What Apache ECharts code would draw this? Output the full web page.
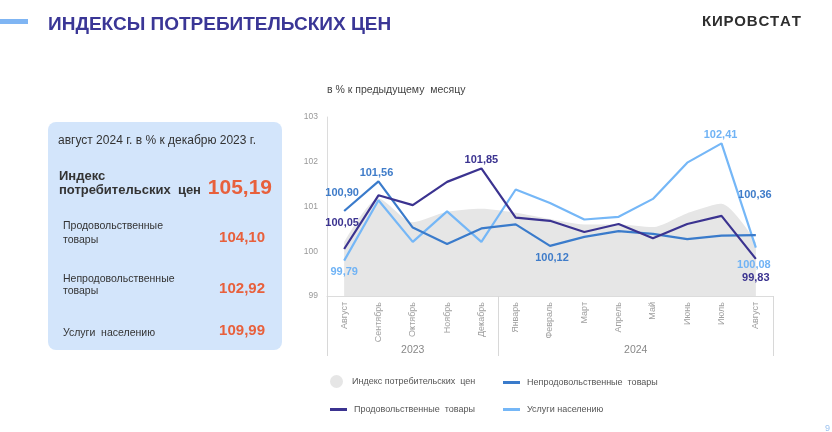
<!DOCTYPE html>
<html>
<head>
<meta charset="utf-8">
<script src="https://cdn.jsdelivr.net/npm/echarts@6/dist/echarts.min.js"></script>
<style>
html,body{margin:0;padding:0;background:#fff;}
#chart{width:832px;height:432px;}
</style>
</head>
<body>
<div id="chart"></div>
<script>
// ---- data ----
const months = ['Август','Сентябрь','Октябрь','Ноябрь','Декабрь','Январь','Февраль','Март','Апрель','Май','Июнь','Июль','Август'];
const years = ['2023','2024'];
const yearSpans = [[0,5],[5,13]];
const seriesNames = ['Индекс потребительских  цен','Непродовольственные  товары','Продовольственные  товары','Услуги населению'];
const cpi      = [100.20,101.18,100.65,100.88,100.95,100.86,100.72,100.60,100.60,100.54,100.85,101.06,100.20];
const nonFood  = [100.90,101.56,100.53,100.16,100.51,100.60,100.12,100.32,100.45,100.39,100.27,100.35,100.36];
const food     = [100.05,101.25,101.03,101.55,101.85,100.75,100.68,100.43,100.61,100.29,100.61,100.79,99.83];
const services = [99.79,101.14,100.21,100.89,100.21,101.38,101.08,100.71,100.77,101.17,101.98,102.41,100.08];
const yTicks = {min:99, max:103, interval:1};
const panelTitle = 'август 2024 г. в % к декабрю 2023 г.';
const panelRows = [
  {label:['Индекс','потребительских  цен'], value:'105,19'},
  {label:['Продовольственные','товары'], value:'104,10'},
  {label:['Непродовольственные','товары'], value:'102,92'},
  {label:['Услуги  населению'], value:'109,99'}
];
const brand = 'КИРОВСТАТ';

// ---- styles ----
const C_FOOD = '#3b3390', C_NON = '#3a7bcb', C_SERV = '#75b7f7', C_CPI = '#e6e6e6';
const FONT = '"Liberation Sans", Arial';
const fmt = v => v.toFixed(2).replace('.', ',');

function withLabels(arr, color, spec){
  return arr.map((v,i) => {
    const s = spec[i];
    if(!s) return {value:v, label:{show:false}};
    return {value:v, label:{show:true, position:s.pos, distance:s.d, offset:s.off||[0,0],
      formatter: p => fmt(p.value), color:color, fontSize:11, fontWeight:'bold', fontFamily:FONT}};
  });
}

const chart = echarts.init(document.getElementById('chart'), null, {renderer:'canvas'});

const panelGraphics = [];
panelGraphics.push({type:'rect', shape:{x:48,y:122,width:234,height:228,r:8}, style:{fill:'#d3e5fb'}});
panelGraphics.push({type:'text', x:58, y:141, style:{text:panelTitle, fill:'#333', font:'12px '+FONT, textVerticalAlign:'middle'}});
panelGraphics.push({type:'text', x:59, y:176, style:{text:panelRows[0].label[0], fill:'#333', font:'bold 13px '+FONT, textVerticalAlign:'middle'}});
panelGraphics.push({type:'text', x:59, y:190, style:{text:panelRows[0].label[1], fill:'#333', font:'bold 13px '+FONT, textVerticalAlign:'middle'}});
panelGraphics.push({type:'text', x:272, y:188, style:{text:panelRows[0].value, fill:'#e8603c', font:'bold 21px '+FONT, textAlign:'right', textVerticalAlign:'middle'}});
const rowY = [[226,240,238],[279,291,289],[333,null,331]];
for(let k=1;k<4;k++){
  const r = panelRows[k], ys = rowY[k-1];
  panelGraphics.push({type:'text', x:63, y:ys[0], style:{text:r.label[0], fill:'#333', font:'10.5px '+FONT, textVerticalAlign:'middle'}});
  if(r.label[1]) panelGraphics.push({type:'text', x:63, y:ys[1], style:{text:r.label[1], fill:'#333', font:'10.5px '+FONT, textVerticalAlign:'middle'}});
  panelGraphics.push({type:'text', x:265, y:ys[2], style:{text:r.value, fill:'#e8603c', font:'bold 15px '+FONT, textAlign:'right', textVerticalAlign:'middle'}});
}

// brand with letter spacing
const mctx = document.createElement('canvas').getContext('2d');
mctx.font = 'bold 15px ' + FONT;
const brandGraphics = [];
let bx = 702;
for(const ch of brand){
  brandGraphics.push({type:'text', x:bx, y:22, style:{text:ch, fill:'#2e2e2e', font:'bold 15px '+FONT, textVerticalAlign:'middle'}});
  bx += mctx.measureText(ch).width + 0.8;
}

const legendBase = {orient:'horizontal', padding:0, itemGap:0, itemWidth:17, itemHeight:3, icon:'rect',
  textStyle:{fontSize:9, color:'#555', fontFamily:FONT, padding:[0,0,0,2]}, selectedMode:false};

const option = {
  animation:false,
  backgroundColor:'#ffffff',
  title:{text:'в % к предыдущему  месяцу', left:327, top:85, padding:0, textStyle:{fontSize:10.5, fontWeight:'normal', color:'#444', fontFamily:FONT}},
  grid:{left:327, right:59, top:117, bottom:136, containLabel:false},
  legend:[
    Object.assign({}, legendBase, {left:330, top:375, data:[{name:seriesNames[0], icon:'circle'}], itemHeight:13}),
    Object.assign({}, legendBase, {left:503, top:378, data:[seriesNames[1]]}),
    Object.assign({}, legendBase, {left:330, top:405, data:[seriesNames[2]]}),
    Object.assign({}, legendBase, {left:503, top:405, data:[seriesNames[3]]})
  ],
  xAxis:[
    {type:'category', data:months, boundaryGap:true,
     axisLine:{show:true, lineStyle:{color:'#dcdcdc'}}, axisTick:{show:false},
     axisLabel:{rotate:90, fontSize:9, color:'#a0a0a0', margin:6, fontFamily:FONT}},
    {type:'value', min:0, max:months.length, position:'bottom',
     axisLine:{show:false}, splitLine:{show:false},
     axisTick:{show:true, customValues:[yearSpans[0][0], yearSpans[0][1], yearSpans[1][1]], length:60, lineStyle:{color:'#d8d8d8'}},
     axisLabel:{customValues:yearSpans.map(s => (s[0]+s[1])/2), margin:49, fontSize:10.5, color:'#888', fontFamily:FONT,
       formatter: v => v < yearSpans[0][1] ? years[0] : years[1]}}
  ],
  yAxis:{type:'value', min:yTicks.min, max:yTicks.max, interval:yTicks.interval,
    axisLine:{show:true, lineStyle:{color:'#dcdcdc'}}, axisTick:{show:false}, splitLine:{show:false},
    axisLabel:{fontSize:8.5, color:'#999', margin:9, fontFamily:FONT}},
  series:[
    {name:seriesNames[0], type:'line', data:cpi, smooth:0.25, symbol:'none', z:1,
     lineStyle:{width:0}, itemStyle:{color:C_CPI}, areaStyle:{color:C_CPI, opacity:1, origin:'start'}},
    {name:seriesNames[1], type:'line', data:withLabels(nonFood, '#3f7cc9', {0:{pos:'top',d:13,off:[-2,0]},1:{pos:'top',d:3,off:[-2,0]},6:{pos:'bottom',d:7,off:[2,0]},12:{pos:'top',d:35,off:[-1,0]}}),
     symbol:'circle', symbolSize:0, showSymbol:true, z:3, lineStyle:{width:2.2, color:C_NON}, itemStyle:{color:C_NON}},
    {name:seriesNames[2], type:'line', data:withLabels(food, C_FOOD, {0:{pos:'top',d:21,off:[-2,0]},4:{pos:'top',d:3},12:{pos:'bottom',d:14}}),
     symbol:'circle', symbolSize:0, showSymbol:true, z:4, lineStyle:{width:2.2, color:C_FOOD}, itemStyle:{color:C_FOOD}},
    {name:seriesNames[3], type:'line', data:withLabels(services, '#70b3f5', {0:{pos:'bottom',d:6},11:{pos:'top',d:3,off:[-1,0]},12:{pos:'bottom',d:12,off:[-2,0]}}),
     symbol:'circle', symbolSize:0, showSymbol:true, z:2, lineStyle:{width:2.2, color:C_SERV}, itemStyle:{color:C_SERV}}
  ],
  graphic:[
    {type:'rect', shape:{x:0,y:19,width:28,height:5}, style:{fill:'#7fb5f3'}},
    {type:'text', x:48, y:25, style:{text:'ИНДЕКСЫ ПОТРЕБИТЕЛЬСКИХ ЦЕН', fill:'#3a3696', font:'bold 19px '+FONT, textVerticalAlign:'middle'}},
    {type:'text', x:825, y:424, style:{text:'9', fill:'#9cc3f0', font:'9px '+FONT}}
  ].concat(brandGraphics, panelGraphics)
};
chart.setOption(option);
</script>
</body>
</html>
